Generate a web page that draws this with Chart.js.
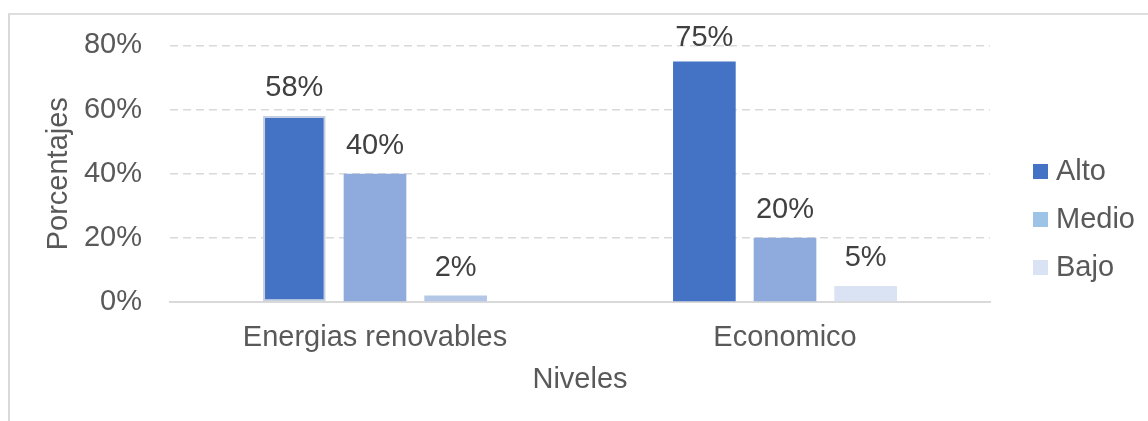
<!DOCTYPE html>
<html><head><meta charset="utf-8">
<script src="https://cdn.jsdelivr.net/npm/chart.js@4.4.0/dist/chart.umd.min.js"></script>
<style>
html,body{margin:0;padding:0;background:#fff;}
#wrap{position:relative;width:1148px;height:421px;overflow:hidden;}
canvas{position:absolute;left:0;top:0;}
#frame{position:absolute;left:8px;top:13px;width:1140px;height:420px;border-top:2px solid #dedede;border-left:2px solid #d9d9d9;pointer-events:none;box-sizing:border-box;}
</style></head><body>
<div id="wrap"><canvas id="c" width="1148" height="421"></canvas><div id="frame"></div></div>
<script>
const categories = ['Energias renovables', 'Economico'];
const seriesNames = ['Alto', 'Medio', 'Bajo'];
const alto = [58, 75];
const medio = [40, 20];
const bajo = [2, 5];
const yTicks = [0, 20, 40, 60, 80];
const altoColors = ['#4472C4', '#4472C4'];
const medioColors = ['#8FAADC', '#8FAADC'];
const bajoColors = ['#B4C7E7', '#DAE3F3'];
const legendColors = ['#4472C4', '#9DC3E6', '#DAE3F3'];

const FONT = '"Liberation Sans", Arial, sans-serif';
Chart.defaults.font.family = FONT;
Chart.defaults.font.size = 29;
Chart.defaults.color = '#595959';

const dataLabels = {
  id: 'dataLabels',
  afterDatasetsDraw(chart) {
    const ctx = chart.ctx;
    ctx.save();
    ctx.font = '29px ' + FONT;
    ctx.fillStyle = '#404040';
    ctx.textAlign = 'center';
    ctx.textBaseline = 'alphabetic';
    chart.data.datasets.forEach((ds, di) => {
      const meta = chart.getDatasetMeta(di);
      meta.data.forEach((el, i) => {
        const y = Math.max(el.y - 20, chart.chartArea.top + 1);
        ctx.fillText(ds.data[i] + '%', el.x, y);
      });
    });
    ctx.restore();
  }
};

const barOpts = { categoryPercentage: 0.59, barPercentage: 0.777 };

new Chart(document.getElementById('c'), {
  type: 'bar',
  data: {
    labels: categories,
    datasets: [
      Object.assign({ label: seriesNames[0], data: alto, backgroundColor: altoColors, borderColor: ['#c5cfe2', '#4472C4'], borderWidth: [2, 0], borderSkipped: false }, barOpts),
      Object.assign({ label: seriesNames[1], data: medio, backgroundColor: medioColors, borderWidth: 0 }, barOpts),
      Object.assign({ label: seriesNames[2], data: bajo, backgroundColor: bajoColors, borderWidth: 0 }, barOpts)
    ]
  },
  options: {
    responsive: false,
    animation: false,
    devicePixelRatio: 1,
    layout: { padding: { left: 10, top: 44, right: 3, bottom: 26 } },
    plugins: {
      tooltip: { enabled: false },
      title: { display: false },
      legend: {
        position: 'right',
        align: 'center',
        labels: {
          usePointStyle: true,
          boxWidth: 2,
          boxHeight: 15,
          padding: 19,
          color: '#595959',
          font: { size: 29, family: FONT },
          generateLabels: () => seriesNames.map((n, i) => ({
            text: n, fillStyle: legendColors[i], strokeStyle: legendColors[i],
            lineWidth: 0, hidden: false, datasetIndex: i, pointStyle: 'rect', fontColor: '#595959'
          }))
        }
      }
    },
    scales: {
      x: {
        type: 'category',
        offset: true,
        grid: { display: false, drawTicks: false },
        border: { display: true, color: '#d9d9d9', width: 2 },
        ticks: { color: '#595959', font: { size: 29 }, padding: 19, maxRotation: 0, autoSkip: false },
        title: { display: true, text: 'Niveles', color: '#595959', font: { size: 29 }, padding: { top: 0, bottom: -2 } },
        afterFit: s => { s.height = 93; }
      },
      y: {
        min: 0, max: 80,
        afterBuildTicks: s => { s.ticks = yTicks.map(v => ({ value: v })); },
        grid: {
          color: c => (c.tick && c.tick.value === 0) ? 'rgba(0,0,0,0)' : '#d9d9d9',
          lineWidth: 1.5,
          drawTicks: false
        },
        border: { display: false, dash: [8, 5] },
        ticks: { color: '#595959', font: { size: 29 }, padding: 28, callback: v => v + '%' },
        title: { display: true, text: 'Porcentajes', color: '#595959', font: { size: 29 }, padding: { top: 32, bottom: 0 } },
        afterFit: s => { s.width = 160; }
      },
      yR: {
        type: 'linear',
        position: 'right',
        display: true,
        grid: { display: false, drawTicks: false },
        border: { display: false },
        ticks: { display: false },
        afterFit: s => { s.width = 30.5; }
      }
    }
  },
  plugins: [dataLabels]
});
</script>
</body></html>
